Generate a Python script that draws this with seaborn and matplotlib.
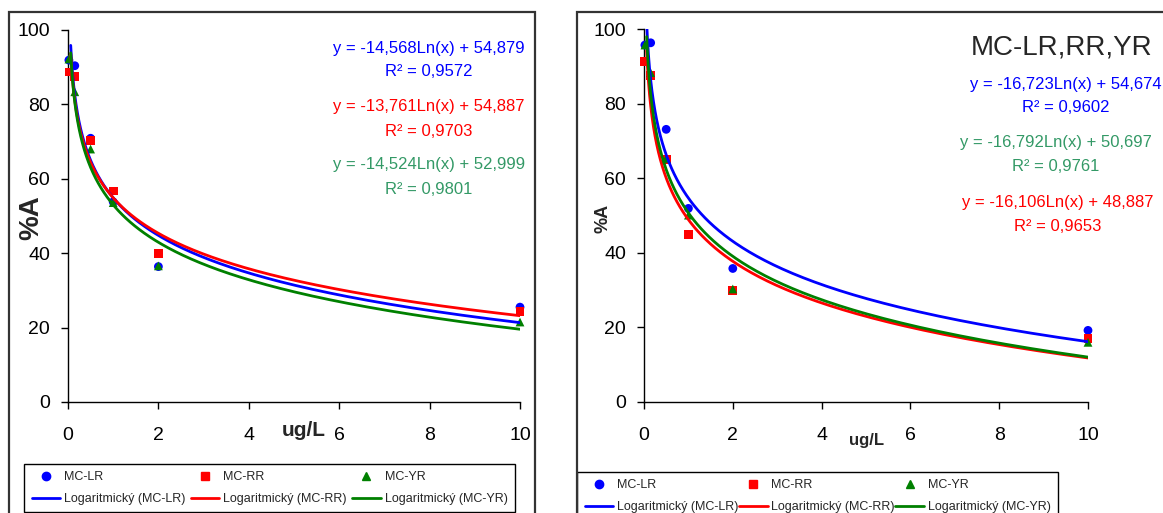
import numpy as np
import pandas as pd
import matplotlib
matplotlib.use("Agg")
import matplotlib.pyplot as plt
from matplotlib.lines import Line2D
from matplotlib.patches import Rectangle
import seaborn as sns

# ---------------- data ----------------
conc = [0.02, 0.15, 0.5, 1, 2, 10]
series_names = ["MC-LR", "MC-RR", "MC-YR"]

left_lr = [91.9, 90.4, 70.9, 53.8, 36.4, 25.5]
left_rr = [88.7, 87.5, 70.2, 56.7, 40.0, 24.3]
left_yr = [92.2, 83.4, 68.0, 53.6, 36.6, 21.5]

right_lr = [95.7, 96.3, 73.1, 51.9, 35.8, 19.2]
right_rr = [91.3, 87.6, 65.0, 44.9, 29.8, 17.1]
right_yr = [95.7, 88.3, 65.3, 50.1, 30.3, 16.0]

# log trendline coefficients y = a*ln(x) + b (as printed on the chart)
left_a = [-14.568, -13.761, -14.524]
left_b = [54.879, 54.887, 52.999]
left_r2 = ["0,9572", "0,9703", "0,9801"]
left_eq = ["-14,568", "-13,761", "-14,524"]
left_eqb = ["54,879", "54,887", "52,999"]

right_a = [-16.723, -16.106, -16.792]
right_b = [54.674, 48.887, 50.697]
right_r2 = ["0,9602", "0,9653", "0,9761"]
right_eq = ["-16,723", "-16,106", "-16,792"]
right_eqb = ["54,674", "48,887", "50,697"]

trend_range = [0.06, 10]
x_ticks = [0, 2, 4, 6, 8, 10]
y_ticks = [0, 20, 40, 60, 80, 100]

# ---------------- style ----------------
sns.set_theme(style="ticks")
plt.rcParams["font.family"] = ["Liberation Sans", "DejaVu Sans"]

W, H = 1163, 513
fig = plt.figure(figsize=(W / 100, H / 100), dpi=100)
fig.patch.set_facecolor("white")

marker_col = {"MC-LR": "#0000FF", "MC-RR": "#FF0000", "MC-YR": "#008000"}
line_col = {"MC-LR": "#0000FF", "MC-RR": "#FF0000", "MC-YR": "#008000"}
text_col = {"MC-LR": "#0000FF", "MC-RR": "#FF0000", "MC-YR": "#339966"}
markers = {"MC-LR": "o", "MC-RR": "s", "MC-YR": "^"}


def fx(px):
    return px / W


def fy(py):
    return 1 - py / H


def make_panel(rect, vals, a_list, b_list):
    ax = fig.add_axes(rect)
    df = pd.DataFrame({
        "conc": conc * 3,
        "pct": vals[0] + vals[1] + vals[2],
        "series": sum([[n] * len(conc) for n in series_names], []),
    })
    sns.scatterplot(data=df, x="conc", y="pct", hue="series", style="series",
                    palette=marker_col, markers=markers, s=40, linewidth=0,
                    legend=False, ax=ax, clip_on=False, zorder=3)
    xs = np.geomspace(trend_range[0], trend_range[1], 300)
    for i, n in enumerate(series_names):
        tdf = pd.DataFrame({"x": xs, "y": a_list[i] * np.log(xs) + b_list[i]})
        sns.lineplot(data=tdf, x="x", y="y", color=line_col[n], lw=2.0,
                     ax=ax, zorder=4, estimator=None, sort=False)
    ax.set_xlim(0, 10)
    ax.set_ylim(0, 100)
    ax.set_xticks(x_ticks)
    ax.set_yticks(y_ticks)
    ax.set_xlabel("")
    ax.set_ylabel("")
    for s in ["top", "right"]:
        ax.spines[s].set_visible(False)
    for s in ["left", "bottom"]:
        ax.spines[s].set_color("black")
        ax.spines[s].set_linewidth(1.0)
    ax.tick_params(axis="both", direction="out", length=5, width=1.0,
                   color="black", labelsize=14, labelcolor="black")
    ax.tick_params(axis="x", pad=13)
    ax.tick_params(axis="y", pad=8)
    ax.set_facecolor("white")
    return ax


ax1 = make_panel([fx(68), fy(402), fx(520) - fx(68), fy(30) - fy(402)],
                 [left_lr, left_rr, left_yr], left_a, left_b)
ax2 = make_panel([fx(644), fy(402), fx(1088) - fx(644), fy(29) - fy(402)],
                 [right_lr, right_rr, right_yr], right_a, right_b)

# chart area frames
fig.patches.append(Rectangle((fx(9), fy(540)), fx(535) - fx(9), fy(12) - fy(540),
                             transform=fig.transFigure, fill=False,
                             edgecolor="#333333", lw=1.6, zorder=0))
fig.patches.append(Rectangle((fx(577), fy(540)), fx(1180) - fx(577), fy(12) - fy(540),
                             transform=fig.transFigure, fill=False,
                             edgecolor="#333333", lw=1.6, zorder=0))

# axis labels
fig.text(fx(31), fy(218), "%A", rotation=90, fontsize=20, fontweight="bold",
         ha="center", va="center")
fig.text(fx(304), fy(430), "ug/L", fontsize=15, fontweight="bold",
         ha="center", va="center")
fig.text(fx(603), fy(218), "%A", rotation=90, fontsize=13, fontweight="bold",
         ha="center", va="center")
fig.text(fx(867), fy(440), "ug/L", fontsize=12, fontweight="bold",
         ha="center", va="center")

# title right
fig.text(fx(1062), fy(48), "MC-LR,RR,YR", fontsize=20, ha="center", va="center")

# equations
def eq_text(cx, y_eq, y_r2, idx, coef, coefb, r2, name):
    fig.text(fx(cx), fy(y_eq), f"y = {coef[idx]}Ln(x) + {coefb[idx]}",
             fontsize=12, color=text_col[name], ha="center", va="center")
    fig.text(fx(cx), fy(y_r2), f"R² = {r2[idx]}",
             fontsize=12, color=text_col[name], ha="center", va="center")

eq_text(429, 48, 72, 0, left_eq, left_eqb, left_r2, "MC-LR")
eq_text(429, 107, 132, 1, left_eq, left_eqb, left_r2, "MC-RR")
eq_text(429, 165, 190, 2, left_eq, left_eqb, left_r2, "MC-YR")

eq_text(1066, 85, 108, 0, right_eq, right_eqb, right_r2, "MC-LR")
eq_text(1056, 143, 167, 2, right_eq, right_eqb, right_r2, "MC-YR")
eq_text(1058, 202, 227, 1, right_eq, right_eqb, right_r2, "MC-RR")

# legends
def make_handles():
    hs, ls = [], []
    for n in series_names:
        hs.append(Line2D([], [], linestyle="none", marker=markers[n],
                         color=marker_col[n], markersize=6))
        ls.append(n)
        hs.append(Line2D([], [], color=line_col[n], lw=2.0))
        ls.append(f"Logaritmický ({n})")
    return hs, ls

for ax, (x0, x1, ytop) in [(ax1, (24, 515, 464)), (ax2, (577, 1058, 472))]:
    hs, ls = make_handles()
    leg = ax.legend(hs, ls, ncol=3, loc="upper left",
                    bbox_to_anchor=(fx(x0), fy(ytop) - 0.001, fx(x1) - fx(x0), 0.001),
                    bbox_transform=fig.transFigure, mode="expand",
                    fontsize=9, frameon=True, fancybox=False, shadow=False,
                    edgecolor="black", framealpha=1, borderaxespad=0,
                    handlelength=2.3, handletextpad=0.3, columnspacing=0.4,
                    labelspacing=0.75, borderpad=0.6)
    leg.get_frame().set_linewidth(1.0)

fig.savefig("out.png", dpi=100, facecolor="white")
